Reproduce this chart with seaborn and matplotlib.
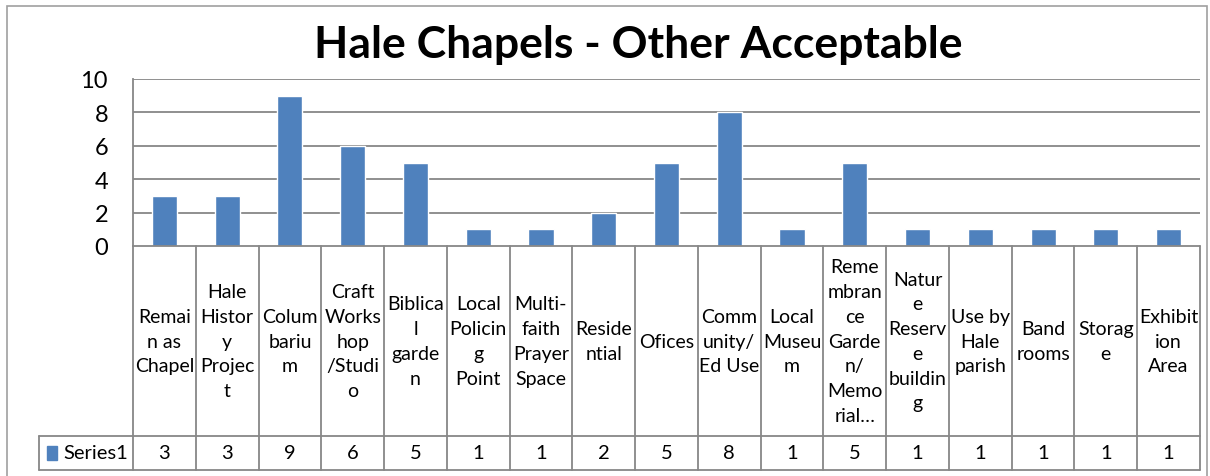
"""Hale Chapels - Other Acceptable: column chart with an Excel-style data table."""

import numpy as np
import pandas as pd
import matplotlib.pyplot as plt
import seaborn as sns
from matplotlib.patches import Rectangle

# chart data
categories = [
    "Remai\nn as\nChapel", "Hale\nHistor\ny\nProjec\nt", "Colum\nbariu\nm",
    "Craft\nWorks\nhop\n/Studi\no", "Biblica\nl\ngarde\nn", "Local\nPolicin\ng\nPoint",
    "Multi-\nfaith\nPrayer\nSpace", "Reside\nntial", "Ofices", "Comm\nunity/\nEd Use",
    "Local\nMuseu\nm", "Reme\nmbran\nce\nGarde\nn/\nMemo\nrial…",
    "Natur\ne\nReserv\ne\nbuildin\ng", "Use by\nHale\nparish", "Band\nrooms",
    "Storag\ne", "Exhibit\nion\nArea",
]
values = [3, 3, 9, 6, 5, 1, 1, 2, 5, 8, 1, 5, 1, 1, 1, 1, 1]
series_name = "Series1"
y_ticks = [0, 2, 4, 6, 8, 10]

BLUE = "#4F81BD"
GRID = "#878787"
FONT = "Lato"

sns.set_style("white")
plt.rcParams["font.family"] = [FONT, "DejaVu Sans"]

df = pd.DataFrame({"category": categories, "value": values})

W, H = 1210, 477
fig = plt.figure(figsize=(W / 100, H / 100), dpi=100)
ax = fig.add_axes([133 / W, (H - 247) / H, 1067 / W, 167 / H])

sns.barplot(data=df, x="category", y="value", color=BLUE, saturation=1,
            width=0.4, ax=ax, zorder=3)

n = len(categories)
ax.set_xlim(-0.5, n - 0.5)
ax.set_ylim(0, 10)
ax.set_yticks(y_ticks)
ax.set_yticklabels([str(t) for t in y_ticks], fontsize=17, color="black")
ax.tick_params(axis="y", length=0, pad=18)
ax.set_xticks([])
ax.set_xlabel("")
ax.set_ylabel("")
for t in y_ticks[1:]:
    ax.axhline(t, color=GRID, lw=1.3, zorder=1)
for s in ["top", "right", "bottom"]:
    ax.spines[s].set_visible(False)
ax.spines["left"].set_color(GRID)
ax.spines["left"].set_linewidth(1.3)

# data table below the axis
tr = ax.get_xaxis_transform()
row1 = -1.138   # bottom of category row (axes fraction)
row2 = -1.341   # bottom of value row
left = -0.5 - 94 / (1067 / n)
line_kw = dict(color=GRID, lw=1.3, transform=tr, clip_on=False, zorder=4)

ax.plot([-0.5, n - 0.5], [0, 0], **line_kw)
ax.plot([left, n - 0.5], [row1, row1], **line_kw)
ax.plot([left, n - 0.5], [row2, row2], **line_kw)
for b in np.arange(n + 1) - 0.5:
    ax.plot([b, b], [0, row2], **line_kw)
ax.plot([left, left], [row1, row2], **line_kw)

for i, (lab, v) in enumerate(zip(categories, values)):
    ax.text(i, row1 / 2, lab, transform=tr, ha="center", va="center",
            fontsize=14, linespacing=1.55, color="black", clip_on=False)
    ax.text(i, (row1 + row2) / 2, str(v), transform=tr, ha="center",
            va="center", fontsize=14.5, color="black", clip_on=False)

# legend key inside table
step = 1067 / n
key_x = -0.5 - (133 - 47) / step
ax.add_patch(Rectangle((key_x, (row1 + row2) / 2 - 0.04), 10 / step, 0.08,
                       transform=tr, color=BLUE, clip_on=False))
ax.text(-0.5 - (133 - 63) / step, (row1 + row2) / 2, series_name, transform=tr,
        ha="left", va="center", fontsize=14.5, color="black", clip_on=False)

# chart title and outer border
fig.text(638 / W, 1 - 45 / H, "Hale Chapels - Other Acceptable",
         ha="center", va="center", fontsize=32, fontweight="bold", color="black")
fig.add_artist(Rectangle((7 / W, -0.1), 1200 / W, 1 - 7 / H + 0.1,
                         transform=fig.transFigure, fill=False,
                         edgecolor="#A0A0A0", lw=1.2))

fig.savefig("out.png", dpi=100)
